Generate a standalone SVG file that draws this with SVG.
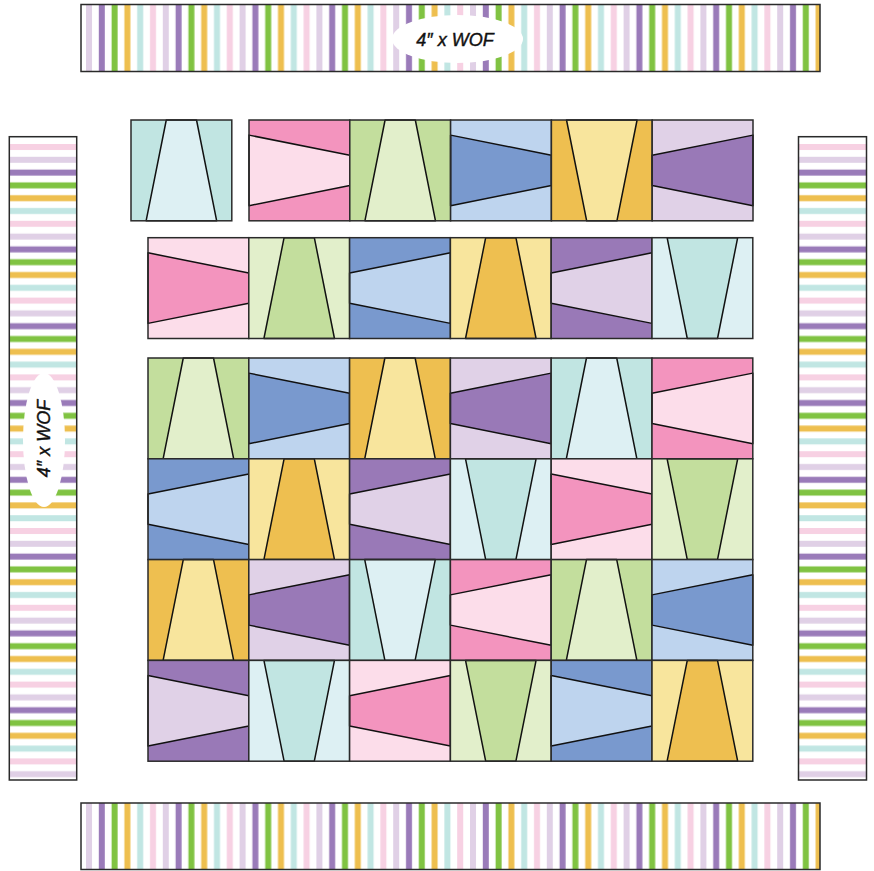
<svg xmlns="http://www.w3.org/2000/svg" xmlns:xlink="http://www.w3.org/1999/xlink" width="874" height="871" viewBox="0 0 874 871">
<style>
.frame{fill:none;stroke:#2a2a2a;stroke-width:1.5}
.cut{stroke:#111;stroke-width:1.5;stroke-linejoin:round}
.lbl{font-family:"Liberation Sans",Arial,sans-serif;font-style:italic;font-size:18px;fill:#111;stroke:#111;stroke-width:0.4;text-anchor:middle}
.pkD{fill:#F394BE}.pkL{fill:#FCDDEA}
.grD{fill:#C3DE9D}.grL{fill:#E2EFCB}
.blD{fill:#7999CE}.blL{fill:#BED4EE}
.orD{fill:#EEBF50}.orL{fill:#F8E59D}
.puD{fill:#9979B7}.puL{fill:#E0D1E7}
.tlD{fill:#C1E5E2}.tlL{fill:#DDF0F3}
</style>
<defs>
<pattern id="vs" patternUnits="userSpaceOnUse" x="9.2" y="0" width="76.8" height="100">
<rect x="0" y="0" width="76.8" height="100" fill="#fff"/>
<rect x="0" y="0" width="6" height="100" fill="#E0D0E6"/>
<rect x="12.8" y="0" width="6" height="100" fill="#9A7BB9"/>
<rect x="25.6" y="0" width="6" height="100" fill="#80C342"/>
<rect x="38.4" y="0" width="6" height="100" fill="#EEBF4F"/>
<rect x="51.2" y="0" width="6" height="100" fill="#C1E6E3"/>
<rect x="64" y="0" width="6" height="100" fill="#F7D1E3"/>
</pattern>
<pattern id="hs" patternUnits="userSpaceOnUse" x="0" y="67.2" width="100" height="76.8">
<rect x="0" y="0" width="100" height="76.8" fill="#fff"/>
<rect x="0" y="0" width="100" height="6" fill="#F7D1E3"/>
<rect x="0" y="12.8" width="100" height="6" fill="#E0D0E6"/>
<rect x="0" y="25.6" width="100" height="6" fill="#9A7BB9"/>
<rect x="0" y="38.4" width="100" height="6" fill="#80C342"/>
<rect x="0" y="51.2" width="100" height="6" fill="#EEBF4F"/>
<rect x="0" y="64" width="100" height="6" fill="#C1E6E3"/>
</pattern>
<rect id="sq" width="100.8" height="100.8"/>
<polygon id="A" points="35.28,0 65.52,0 85.68,100.8 15.12,100.8"/>
<polygon id="V" points="15.12,0 85.68,0 65.52,100.8 35.28,100.8"/>
<polygon id="WL" points="0,15.12 100.8,35.28 100.8,65.52 0,85.68"/>
<polygon id="NL" points="0,35.28 100.8,15.12 100.8,85.68 0,65.52"/>
</defs>
<rect width="874" height="871" fill="#fff"/>

<g id="border-top">
<rect x="81" y="4.5" width="739" height="67" fill="url(#vs)"/>
<rect x="81" y="4.5" width="739" height="67" class="frame"/>
<ellipse cx="457.5" cy="39" rx="65.5" ry="24" fill="#fff"/>
<text class="lbl" x="455" y="45.5">4″ x WOF</text>
</g>
<g id="border-bottom">
<rect x="81" y="803" width="739" height="66.5" fill="url(#vs)"/>
<rect x="81" y="803" width="739" height="66.5" class="frame"/>
</g>
<g id="border-left">
<rect x="9.3" y="136.7" width="67.4" height="643.3" fill="url(#hs)"/>
<rect x="9.3" y="136.7" width="67.4" height="643.3" class="frame"/>
<ellipse cx="44" cy="440" rx="21" ry="67" fill="#fff"/>
<text class="lbl" transform="translate(49.5,438.5) rotate(-90)" x="0" y="0">4″ x WOF</text>
</g>
<g id="border-right">
<rect x="798.5" y="136.7" width="68" height="643.3" fill="url(#hs)"/>
<rect x="798.5" y="136.7" width="68" height="643.3" class="frame"/>
</g>

<g id="blocks">
<!-- Row 1 -->
<g id="b-r1-0" transform="translate(131,120)"><use href="#sq" class="tlD"/><use href="#A" class="tlL cut"/><use href="#sq" class="frame"/></g>
<g id="b-r1-1" transform="translate(249,120)"><use href="#sq" class="pkD"/><use href="#WL" class="pkL cut"/><use href="#sq" class="frame"/></g>
<g id="b-r1-2" transform="translate(349.8,120)"><use href="#sq" class="grD"/><use href="#A" class="grL cut"/><use href="#sq" class="frame"/></g>
<g id="b-r1-3" transform="translate(450.6,120)"><use href="#sq" class="blL"/><use href="#WL" class="blD cut"/><use href="#sq" class="frame"/></g>
<g id="b-r1-4" transform="translate(551.4,120)"><use href="#sq" class="orD"/><use href="#V" class="orL cut"/><use href="#sq" class="frame"/></g>
<g id="b-r1-5" transform="translate(652.2,120)"><use href="#sq" class="puL"/><use href="#NL" class="puD cut"/><use href="#sq" class="frame"/></g>
<!-- Row 2 -->
<g id="b-r2-0" transform="translate(148,237.7)"><use href="#sq" class="pkL"/><use href="#WL" class="pkD cut"/><use href="#sq" class="frame"/></g>
<g id="b-r2-1" transform="translate(248.8,237.7)"><use href="#sq" class="grL"/><use href="#A" class="grD cut"/><use href="#sq" class="frame"/></g>
<g id="b-r2-2" transform="translate(349.6,237.7)"><use href="#sq" class="blD"/><use href="#NL" class="blL cut"/><use href="#sq" class="frame"/></g>
<g id="b-r2-3" transform="translate(450.4,237.7)"><use href="#sq" class="orL"/><use href="#A" class="orD cut"/><use href="#sq" class="frame"/></g>
<g id="b-r2-4" transform="translate(551.2,237.7)"><use href="#sq" class="puD"/><use href="#NL" class="puL cut"/><use href="#sq" class="frame"/></g>
<g id="b-r2-5" transform="translate(652,237.7)"><use href="#sq" class="tlL"/><use href="#V" class="tlD cut"/><use href="#sq" class="frame"/></g>
<!-- Row 3 -->
<g id="b-r3-0" transform="translate(148,358)"><use href="#sq" class="grD"/><use href="#A" class="grL cut"/><use href="#sq" class="frame"/></g>
<g id="b-r3-1" transform="translate(248.8,358)"><use href="#sq" class="blL"/><use href="#WL" class="blD cut"/><use href="#sq" class="frame"/></g>
<g id="b-r3-2" transform="translate(349.6,358)"><use href="#sq" class="orD"/><use href="#A" class="orL cut"/><use href="#sq" class="frame"/></g>
<g id="b-r3-3" transform="translate(450.4,358)"><use href="#sq" class="puL"/><use href="#NL" class="puD cut"/><use href="#sq" class="frame"/></g>
<g id="b-r3-4" transform="translate(551.2,358)"><use href="#sq" class="tlD"/><use href="#A" class="tlL cut"/><use href="#sq" class="frame"/></g>
<g id="b-r3-5" transform="translate(652,358)"><use href="#sq" class="pkD"/><use href="#NL" class="pkL cut"/><use href="#sq" class="frame"/></g>
<!-- Row 4 -->
<g id="b-r4-0" transform="translate(148,458.8)"><use href="#sq" class="blD"/><use href="#NL" class="blL cut"/><use href="#sq" class="frame"/></g>
<g id="b-r4-1" transform="translate(248.8,458.8)"><use href="#sq" class="orL"/><use href="#A" class="orD cut"/><use href="#sq" class="frame"/></g>
<g id="b-r4-2" transform="translate(349.6,458.8)"><use href="#sq" class="puD"/><use href="#NL" class="puL cut"/><use href="#sq" class="frame"/></g>
<g id="b-r4-3" transform="translate(450.4,458.8)"><use href="#sq" class="tlL"/><use href="#V" class="tlD cut"/><use href="#sq" class="frame"/></g>
<g id="b-r4-4" transform="translate(551.2,458.8)"><use href="#sq" class="pkL"/><use href="#WL" class="pkD cut"/><use href="#sq" class="frame"/></g>
<g id="b-r4-5" transform="translate(652,458.8)"><use href="#sq" class="grL"/><use href="#V" class="grD cut"/><use href="#sq" class="frame"/></g>
<!-- Row 5 -->
<g id="b-r5-0" transform="translate(148,559.6)"><use href="#sq" class="orD"/><use href="#A" class="orL cut"/><use href="#sq" class="frame"/></g>
<g id="b-r5-1" transform="translate(248.8,559.6)"><use href="#sq" class="puL"/><use href="#NL" class="puD cut"/><use href="#sq" class="frame"/></g>
<g id="b-r5-2" transform="translate(349.6,559.6)"><use href="#sq" class="tlD"/><use href="#V" class="tlL cut"/><use href="#sq" class="frame"/></g>
<g id="b-r5-3" transform="translate(450.4,559.6)"><use href="#sq" class="pkD"/><use href="#NL" class="pkL cut"/><use href="#sq" class="frame"/></g>
<g id="b-r5-4" transform="translate(551.2,559.6)"><use href="#sq" class="grD"/><use href="#A" class="grL cut"/><use href="#sq" class="frame"/></g>
<g id="b-r5-5" transform="translate(652,559.6)"><use href="#sq" class="blL"/><use href="#NL" class="blD cut"/><use href="#sq" class="frame"/></g>
<!-- Row 6 -->
<g id="b-r6-0" transform="translate(148,660.4)"><use href="#sq" class="puD"/><use href="#WL" class="puL cut"/><use href="#sq" class="frame"/></g>
<g id="b-r6-1" transform="translate(248.8,660.4)"><use href="#sq" class="tlL"/><use href="#V" class="tlD cut"/><use href="#sq" class="frame"/></g>
<g id="b-r6-2" transform="translate(349.6,660.4)"><use href="#sq" class="pkL"/><use href="#NL" class="pkD cut"/><use href="#sq" class="frame"/></g>
<g id="b-r6-3" transform="translate(450.4,660.4)"><use href="#sq" class="grL"/><use href="#V" class="grD cut"/><use href="#sq" class="frame"/></g>
<g id="b-r6-4" transform="translate(551.2,660.4)"><use href="#sq" class="blD"/><use href="#WL" class="blL cut"/><use href="#sq" class="frame"/></g>
<g id="b-r6-5" transform="translate(652,660.4)"><use href="#sq" class="orL"/><use href="#A" class="orD cut"/><use href="#sq" class="frame"/></g>
</g>
<g id="connectors"></g>
</svg>
